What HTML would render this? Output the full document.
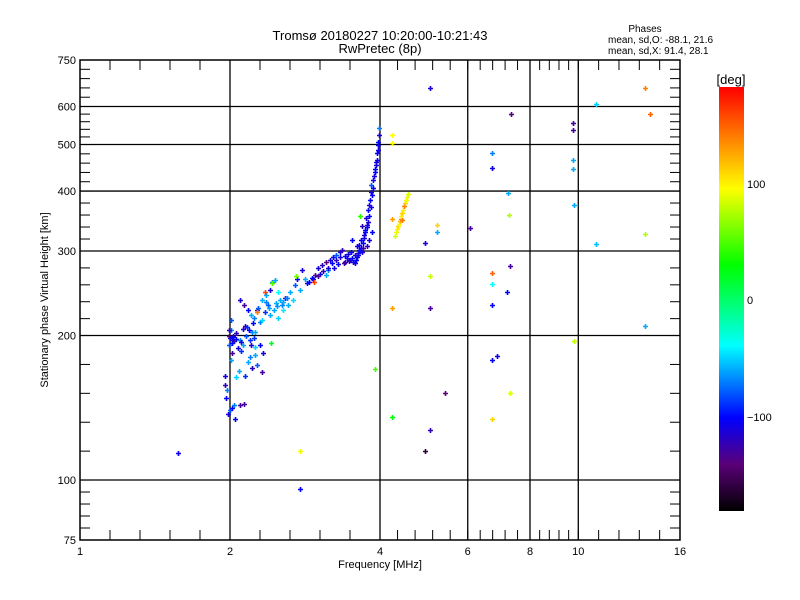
<!DOCTYPE html>
<html><head><meta charset="utf-8"><style>
body{margin:0;background:#fff;width:800px;height:600px;overflow:hidden}
svg{display:block;font-family:"Liberation Sans","DejaVu Sans",sans-serif}
</style></head><body>
<svg id="chart" width="800" height="600" viewBox="0 0 800 600" xmlns="http://www.w3.org/2000/svg">
<defs>
<linearGradient id="cbar" x1="0" y1="1" x2="0" y2="0">
<stop offset="0" stop-color="#000000"/>
<stop offset="0.11" stop-color="#5a0078"/>
<stop offset="0.22" stop-color="#0000ff"/>
<stop offset="0.39" stop-color="#00ffff"/>
<stop offset="0.48" stop-color="#00ff80"/>
<stop offset="0.58" stop-color="#00ff00"/>
<stop offset="0.76" stop-color="#ffff00"/>
<stop offset="0.88" stop-color="#ff8000"/>
<stop offset="1" stop-color="#ff0000"/>
</linearGradient>
</defs>
<text x="380" y="40" font-size="13" text-anchor="middle">Tromsø 20180227 10:20:00-10:21:43</text>
<text x="380" y="53" font-size="13" text-anchor="middle">RwPretec (8p)</text>
<text x="645" y="32" font-size="10" text-anchor="middle">Phases</text>
<text x="608" y="43" font-size="10">mean, sd,O: -88.1, 21.6</text>
<text x="608" y="54" font-size="10">mean, sd,X:  91.4, 28.1</text>
<g id="grid"></g>
<g id="points"></g>
<rect x="80" y="60" width="600" height="480" fill="none" stroke="#000" stroke-width="1.5"/>
<g id="ticks"></g>
<text x="380" y="568" font-size="11" text-anchor="middle">Frequency [MHz]</text>
<text x="48" y="300" font-size="11" text-anchor="middle" transform="rotate(-90 48 300)">Stationary phase Virtual Height [km]</text>
<rect x="719" y="87" width="25" height="424" fill="url(#cbar)"/>
<text x="731" y="84" font-size="13" text-anchor="middle">[deg]</text>
<text x="747" y="188" font-size="11">100</text>
<text x="747" y="304" font-size="11">0</text>
<text x="747" y="421" font-size="11">−100</text>
</svg>
<script>
const xTicks=[1,2,4,6,8,10,16];
const xTickLabels=["1","2","4","6","8","10","16"];
const xGrid=[2,4,6,8,10];
const yTicks=[75,100,200,300,400,500,600,750];
const yTickLabels=["75","100","200","300","400","500","600","750"];
const yGrid=[100,200,300,400,500,600];
const freqs=[1.954,1.954,1.963,1.982,2.0,2.019,1.972,1.991,2.009,2.019,2.019,2.009,2.009,1.991,2.028,2.037,2.056,2.093,2.046,2.037,2.093,2.131,2.084,2.056,2.141,2.103,2.151,2.21,2.23,2.2,2.122,2.19,2.25,2.30,2.33,2.24,2.19,2.17,2.27,2.32,2.21,
2.093,2.131,2.170,2.2,2.23,2.27,2.32,2.36,2.41,2.43,2.46,2.50,2.52,2.58,2.64,2.70,2.73,2.79,2.83,2.76,2.67,2.61,2.55,2.50,2.41,2.35,2.30,2.25,2.45,2.54,2.47,2.38,2.32,2.141,2.180,
2.86,2.92,2.96,3.01,3.06,3.12,3.17,3.22,3.26,3.32,3.36,3.41,3.48,3.39,3.44,3.29,3.23,3.15,3.11,3.03,3.51,3.56,3.61,3.63,3.66,3.56,
3.63,3.66,3.72,3.73,3.77,3.68,3.75,3.79,3.81,3.82,3.84,3.84,3.88,3.90,3.92,3.94,3.96,3.96,3.98,3.98,3.81,3.86,3.70,3.59,3.52,3.77,
3.40,3.45,3.50,3.47,3.53,3.58,3.60,3.62,3.65,3.68,3.70,3.72,3.74,3.76,3.78,3.80,3.83,3.85,3.87,3.89,3.91,3.93,3.95,3.97,3.33,3.27,3.20,3.14,3.08,3.00,2.94,2.88,2.60,2.56,2.48,2.40,2.36,2.28,2.22,2.16,2.12,2.06,2.03,2.00,1.99,2.02,2.08,2.10,
2.35,2.27,2.95,2.43,2.71,3.65,
5.04,13.6,10.85,13.9,7.33,9.76,9.76,4.23,4.23,6.71,6.71,9.76,9.76,7.23,9.8,7.26,6.06,5.21,5.21,4.92,13.6,10.85,7.3,6.71,6.71,7.2,5.04,4.23,5.04,6.71,13.6,9.8,6.87,6.71,5.40,7.3,4.23,5.04,4.92,6.71,3.91,1.57,2.76,2.76,2.42,4.23,
4.29,4.31,4.33,4.35,4.36,4.38,4.40,4.41,4.43,4.45,4.47,4.49,4.51,4.53,4.55,4.42];
const heights=[165,158,148,137,140,141,154,191,178,184,196,205,215,200,200,195,197,196,134,143,143,144,169,164,165,194,200,203,198,191,191,196,189,191,184,182,180,176,174,168,171,
237,232,226,221,218,226,237,243,249,258,261,247,237,239,246,255,262,274,262,249,237,232,226,218,221,224,213,203,226,232,234,232,215,209,205,
257,263,268,276,280,284,287,292,294,298,301,284,287,283,290,282,276,274,267,269,290,294,297,301,304,283,
309,316,324,332,340,338,351,365,374,383,398,412,422,438,453,464,487,506,523,541,316,328,304,307,316,307,
293,296,299,286,284,288,291,295,300,298,312,320,328,336,345,355,370,392,405,430,445,460,480,500,292,288,283,276,272,266,262,258,240,235,230,228,235,228,212,208,206,202,199,198,205,193,188,186,
246,224,259,257,266,355,
655,655,607,580,578,554,535,523,503,480,447,464,444,396,374,356,335,340,328,312,326,310,279,270,256,246,266,228,228,231,209,195,181,178,152,152,135,127,115,134,170,114,115,96,193,350,
322,328,333,338,342,346,350,355,360,366,372,378,383,389,394,348];
const phases=[-110,-120,-100,-110,-80,-100,-70,-80,-60,-130,-110,-70,-80,-140,-120,-130,-100,-70,-100,-70,-130,-130,-60,-50,-90,-110,-80,-70,-90,-110,-60,-90,-50,-100,-110,-60,-70,-60,-80,-130,-120,
-110,-130,-100,-60,-70,-130,-60,-60,-110,-70,-60,-40,-60,-90,-60,-80,-100,-110,-60,-60,-50,-60,-45,-50,-60,-90,-70,-60,-60,-70,-60,-80,-50,-120,-100,
-110,-100,-130,-110,-120,-140,-110,-100,-80,-110,-120,-110,-100,-130,-110,-100,-110,-70,-60,-110,-100,-110,-120,-110,-100,-110,
-110,-100,-110,-100,-110,-120,-110,-100,-110,-100,-110,-80,-110,-100,-110,-100,-110,-100,-110,-70,-110,-100,-130,-110,-100,-120,
-105,-110,-100,-125,-110,-100,-110,-105,-95,-110,-100,-110,-100,-105,-110,-100,-110,-100,-105,-110,-100,-110,-100,-105,-110,-120,-100,-110,-120,-130,-110,-100,-70,-60,-65,-60,-70,-80,-100,-90,-110,-120,-100,-110,-120,-100,-110,-90,
160,140,160,50,60,40,
-110,140,-50,150,-135,-130,-130,95,95,-70,-105,-60,-60,-60,-60,75,-130,110,-60,-110,75,-55,-130,150,-40,-100,80,130,-130,-100,-60,80,-105,-100,-140,85,30,-120,-160,110,50,-105,90,-100,20,130,
85,90,100,110,95,120,130,100,110,100,140,110,90,100,85,140];

const X0=80,X1=680,Y0=540,Y1=60;
function xs(f){return X0+(X1-X0)*Math.log2(f)/4;}
function ys(h){return Y0-(Y0-Y1)*Math.log10(h/75);}
const stops=[[-180,[0,0,0]],[-140,[90,0,120]],[-100,[0,0,255]],[-40,[0,255,255]],[-8,[0,255,128]],[30,[0,255,0]],[95,[255,255,0]],[140,[255,128,0]],[180,[255,0,0]]];
function pcol(p){p=Math.max(-180,Math.min(180,p));for(let i=1;i<stops.length;i++){if(p<=stops[i][0]){const a=stops[i-1],b=stops[i];const t=(p-a[0])/(b[0]-a[0]);const c=a[1].map((v,k)=>Math.round(v+(b[1][k]-v)*t));return `rgb(${c[0]},${c[1]},${c[2]})`;}}return 'rgb(255,0,0)';}
const NS='http://www.w3.org/2000/svg';
function mk(tag,attrs,parent){const e=document.createElementNS(NS,tag);for(const k in attrs)e.setAttribute(k,attrs[k]);parent.appendChild(e);return e;}
const grid=document.getElementById('grid'),ticks=document.getElementById('ticks'),pts=document.getElementById('points');
xGrid.forEach(v=>{const l=mk('line',{x1:xs(v),x2:xs(v),y1:Y1,y2:Y0,stroke:'#000','stroke-width':1.3},grid);

});
yGrid.forEach(v=>{const l=mk('line',{x1:X0,x2:X1,y1:ys(v),y2:ys(v),stroke:'#000','stroke-width':1.3},grid);

});
for(let i=0;i<xTicks.length-1;i++){const a=xs(xTicks[i]),b=xs(xTicks[i+1]);for(let j=0;j<5;j++){const x=a+(b-a)*j/5;
mk('line',{x1:x,x2:x,y1:Y0,y2:Y0-10,stroke:'#000'},ticks);mk('line',{x1:x,x2:x,y1:Y1,y2:Y1+10,stroke:'#000'},ticks);}}
for(let i=0;i<yTicks.length-1;i++){const a=ys(yTicks[i]),b=ys(yTicks[i+1]);for(let j=0;j<5;j++){const y=a+(b-a)*j/5;
mk('line',{x1:X0,x2:X0+10,y1:y,y2:y,stroke:'#000'},ticks);mk('line',{x1:X1,x2:X1-10,y1:y,y2:y,stroke:'#000'},ticks);}}
xTicks.forEach((v,i)=>{const t=mk('text',{x:xs(v),y:Y0+15,'font-size':11,'text-anchor':'middle'},ticks);t.textContent=xTickLabels[i];

});
yTicks.forEach((v,i)=>{const t=mk('text',{x:X0-4,y:ys(v)+4,'font-size':11,'text-anchor':'end'},ticks);t.textContent=yTickLabels[i];

});
for(let i=0;i<freqs.length;i++){const x=Math.round(xs(freqs[i])),y=Math.round(ys(heights[i]));const c=pcol(phases[i]);
const g=mk('path',{d:`M${x-2} ${y+0.5}H${x+3}M${x+0.5} ${y-2}V${y+3}`,stroke:c,'stroke-width':1.6,fill:'none'},pts);

}
</script>
</body></html>
